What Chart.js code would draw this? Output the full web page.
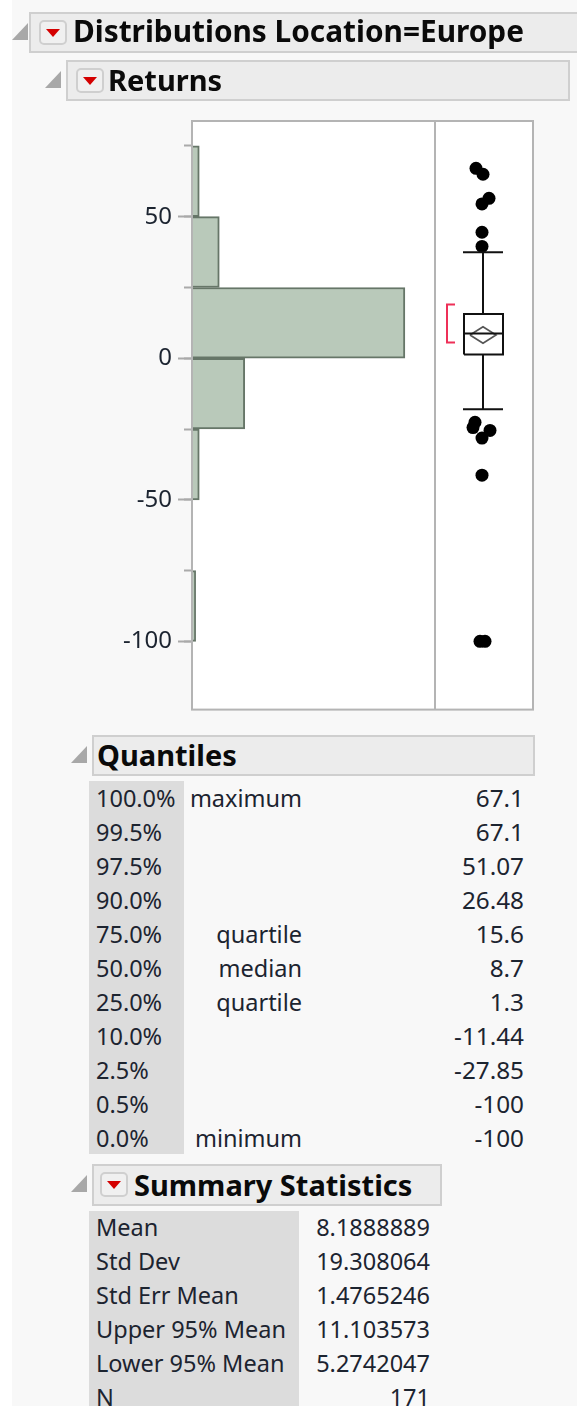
<!DOCTYPE html>
<html><head><meta charset="utf-8">
<script src="https://cdn.jsdelivr.net/npm/chart.js@4"></script>
<style>
html,body{margin:0;padding:0;background:#fff}
#page{position:relative;width:577px;height:1406px;overflow:hidden;background:#f8f8f8;font-family:"Noto Sans",sans-serif;color:#1c2430;filter:blur(.55px)}
#strip{position:absolute;left:0;top:0;width:12px;height:1406px;background:#fff}
#c{position:absolute;left:0;top:0}
.hd{position:absolute;box-sizing:border-box;background:#ececec;border:2px solid #cfcfcf;font-weight:700;color:#0a0a0a;white-space:nowrap;line-height:36px}
.tri{position:absolute;width:0;height:0;border-style:solid;border-width:0 0 17px 16px;border-color:transparent transparent #a8a8a8 transparent}
.btn{position:absolute;box-sizing:border-box;width:28px;height:25px;border:2px solid #cfcfcf;border-radius:5px;background:#f0f0f0}
.btn:after{content:"";position:absolute;left:5px;top:7px;border-style:solid;border-width:8px 7px 0 7px;border-color:#d40000 transparent transparent transparent}
.gray{position:absolute;background:#dcdcdc}
.t{position:absolute;font-size:23.5px;line-height:30px;white-space:nowrap}
.r{text-align:right}
</style></head><body>
<div id="page">
<div id="strip"></div>
<canvas id="c" width="577" height="730"></canvas>
<div id="ui"></div>
</div>
<script>
const binCenters=[62.5,37.5,12.5,-12.5,-37.5,-62.5,-87.5];
const binCounts=[4,15,117,29,4,0,2];
const axisMajorTicks=50, axisMinorTicks=25;
const quartile3=15.6, medianValue=8.7, quartile1=1.3;
const whiskerHigh=37.4, whiskerLow=-18;
const meanValue=8.1888889, meanUpper=11.103573, meanLower=5.2742047;
const shortestHalf=[19,5.6];
const outlierValues=[67.1,65,56.5,54.5,44.5,39.5,-22.6,-24.5,-25.5,-28.2,-41.3,-100,-100];
const outlierJitter=[-7,0,6,-1,-1,-1,-8,-10,7,-1,-1,-3,2];
const quantilePct=["100.0%","99.5%","97.5%","90.0%","75.0%","50.0%","25.0%","10.0%","2.5%","0.5%","0.0%"];
const quantileNames=["maximum","","","","quartile","median","quartile","","","","minimum"];
const quantileVals=["67.1","67.1","51.07","26.48","15.6","8.7","1.3","-11.44","-27.85","-100","-100"];
const statNames=["Mean","Std Dev","Std Err Mean","Upper 95% Mean","Lower 95% Mean","N"];
const statVals=["8.1888889","19.308064","1.4765246","11.103573","5.2742047","171"];

const ui=document.getElementById('ui');
function add(cls,style,text){const d=document.createElement('div');d.className=cls;d.style.cssText=style;if(text!==undefined)d.textContent=text;ui.appendChild(d);return d}
function header(x,y,w,h,text,fs,btn,tx,triX,dy){
  add('hd',`left:${x}px;top:${y}px;width:${w}px;height:${h}px`);
  add('tri',`left:${triX}px;top:${y+11}px`);
  if(btn)add('btn',`left:${btn}px;top:${y+8}px`);
  add('t',`left:${tx}px;top:${y+dy}px;font-size:${fs}px;line-height:34px;font-weight:700;color:#0a0a0a`,text);
}
header(29,12,560,41,"Distributions Location=Europe",29.8,39,73,12,2);
header(66,60,504,41,"Returns",29,76,108,45,3);
header(92,735,443,41,"Quantiles",29,0,97,71,3);
header(92,1164,350,42,"Summary Statistics",29,100,134,71,4);
add('gray','left:89px;top:781px;width:95px;height:373px');
add('gray','left:89px;top:1211px;width:210px;height:195px');
quantilePct.forEach((p,i)=>{
  const y=783+i*34;
  add('t',`left:96px;top:${y}px`,p);
  if(quantileNames[i])add('t r',`right:${577-302}px;top:${y}px`,quantileNames[i]);
  add('t r',`right:${577-524}px;top:${y}px;font-size:24.3px`,quantileVals[i]);
});
statNames.forEach((n,i)=>{
  const y=1212+i*34;
  add('t',`left:96px;top:${y}px`,n);
  add('t r',`right:${577-430}px;top:${y}px`,statVals[i]);
});

const frame={id:'frame',
  beforeDraw(ch){const a=ch.chartArea,g=ch.ctx;g.fillStyle='#fff';g.fillRect(a.left,a.top,a.width,a.height)},
  afterDatasetsDraw(ch){const a=ch.chartArea,g=ch.ctx;g.save();g.strokeStyle='#b4b4b4';g.lineWidth=2;g.strokeRect(a.left,a.top,a.width,a.height);
    const dx=ch.scales.x2.getPixelForValue(-48);g.beginPath();g.moveTo(dx,a.top);g.lineTo(dx,a.bottom);g.stroke();g.restore()}
};
const line=(pts,color,w,order)=>({type:'scatter',indexAxis:'x',xAxisID:'x2',yAxisID:'y',showLine:true,data:pts,borderColor:color,borderWidth:w,pointRadius:0,order:order||1,tension:0,clip:false});
const boxL=-19,boxR=20;
new Chart(document.getElementById('c'),{
  type:'bar',
  data:{datasets:[
    line([{x:0,y:whiskerLow},{x:0,y:quartile1}],'#111',2),
    line([{x:0,y:quartile3},{x:0,y:whiskerHigh}],'#111',2),
    line([{x:boxL-1,y:whiskerHigh},{x:boxR,y:whiskerHigh}],'#111',2),
    line([{x:boxL-1,y:whiskerLow},{x:boxR,y:whiskerLow}],'#111',2),
    line([{x:boxL,y:quartile1},{x:boxR,y:quartile1},{x:boxR,y:quartile3},{x:boxL,y:quartile3},{x:boxL,y:quartile1}],'#111',2),
    line([{x:boxL,y:medianValue},{x:boxR,y:medianValue}],'#111',2),
    line([{x:-13,y:meanValue},{x:0,y:meanUpper},{x:13,y:meanValue},{x:0,y:meanLower},{x:-13,y:meanValue}],'#555',1.7),
    line([{x:-28,y:shortestHalf[0]},{x:-36,y:shortestHalf[0]},{x:-36,y:shortestHalf[1]},{x:-28,y:shortestHalf[1]}],'#ee3058',2),
    {type:'scatter',indexAxis:'x',xAxisID:'x2',yAxisID:'y',data:outlierValues.map((v,i)=>({x:outlierJitter[i],y:v})),pointRadius:6.5,pointBackgroundColor:'#000',pointBorderWidth:0,order:1},
    {type:'bar',indexAxis:'y',xAxisID:'x',yAxisID:'y',data:binCenters.map((c,i)=>({y:c,x:binCounts[i]||null})),backgroundColor:'#b9c9ba',borderColor:'#667668',borderWidth:2,barPercentage:1,categoryPercentage:1,order:2}
  ]},
  options:{
    responsive:false,animation:false,indexAxis:'y',
    layout:{padding:{top:121,bottom:20,right:44,left:0}},
    plugins:{legend:{display:false},tooltip:{enabled:false}},
    scales:{
      x:{type:'linear',axis:'x',display:false,min:0,max:187.4,grid:{display:false}},
      x2:{type:'linear',axis:'x',display:false,min:-291,max:50,grid:{display:false}},
      y:{type:'linear',axis:'y',position:'left',min:-124.1,max:83.8,offset:false,
        afterFit(s){s.width=192},
        afterBuildTicks(s){s.ticks=[];for(let v=-100;v<=50;v+=axisMajorTicks)s.ticks.push({value:v})},
        border:{display:false},
        grid:{offset:false,drawOnChartArea:false,drawTicks:true,tickLength:14,tickColor:'#aaa',tickWidth:2},
        ticks:{padding:6,color:'#1c2430',font:{family:'"Noto Sans"',size:24},callback:v=>String(v)}},
      yMinor:{type:'linear',axis:'y',position:{x:0},min:-124.1,max:83.8,offset:false,
        afterBuildTicks(s){s.ticks=[];for(let v=-100;v<=75;v+=axisMinorTicks)s.ticks.push({value:v})},
        border:{display:false},
        grid:{offset:false,drawOnChartArea:false,drawTicks:true,tickLength:8,tickColor:'#aaa',tickWidth:2},
        ticks:{callback:()=>''}}
    }
  },
  plugins:[frame]
});
</script>
</body></html>
